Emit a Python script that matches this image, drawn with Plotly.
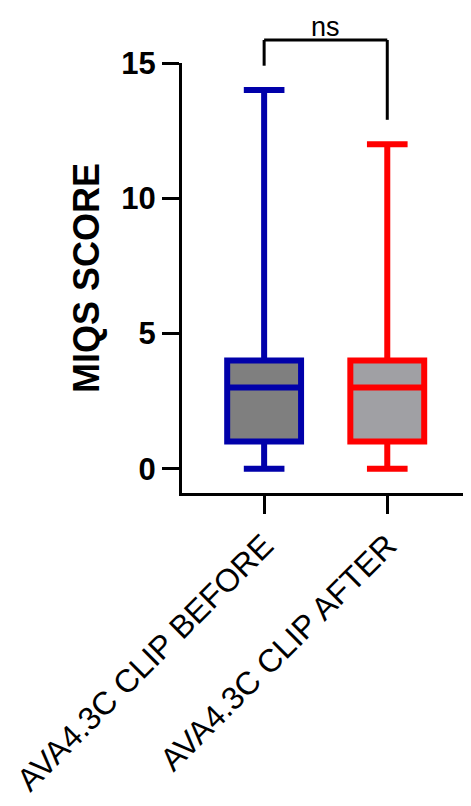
import plotly.graph_objects as go

groups = ['AVA4.3C CLIP BEFORE', 'AVA4.3C CLIP AFTER']
q1 = [1, 1]
median = [3, 3]
q3 = [4, 4]
lowerfence = [0, 0]
upperfence = [14, 12]
line_colors = ['#0000AA', '#FF0000']
fill_colors = ['#7F7F7F', '#A0A0A4']
sig_label = 'ns'

FONT = 'Liberation Sans, Arial, sans-serif'
ymin, ymax = -0.9, 15

fig = go.Figure()
for i in range(len(groups)):
    fig.add_trace(go.Box(
        x=[i], q1=[q1[i]], median=[median[i]], q3=[q3[i]],
        lowerfence=[lowerfence[i]], upperfence=[upperfence[i]],
        width=0.6, whiskerwidth=0.55,
        line=dict(color=line_colors[i], width=6),
        fillcolor=fill_colors[i], boxpoints=False,
        showlegend=False, hoverinfo='skip'))

# significance bracket (paper y, computed from data values)
def py(v):
    return (v - ymin) / (ymax - ymin)

top = max(upperfence) + 1.85
fig.add_shape(type='line', xref='x', yref='paper', x0=0, x1=0,
              y0=py(upperfence[0] + 0.9), y1=py(top), line=dict(color='black', width=3))
fig.add_shape(type='line', xref='x', yref='paper', x0=1, x1=1,
              y0=py(upperfence[1] + 0.9), y1=py(top), line=dict(color='black', width=3))
fig.add_shape(type='line', xref='x', yref='paper', x0=0, x1=1,
              y0=py(top), y1=py(top), line=dict(color='black', width=3))
fig.add_annotation(x=0.5, xref='x', y=py(top), yref='paper', text=sig_label,
                   showarrow=False, yanchor='bottom', yshift=-3, borderpad=0,
                   font=dict(family=FONT, size=27, color='black'))

fig.update_xaxes(range=[-0.667, 1.68], tickvals=[0, 1], ticktext=groups,
                 tickangle=-45, showline=True, linecolor='black', linewidth=3,
                 ticks='outside', ticklen=18, tickwidth=3, tickcolor='black',
                 showgrid=False, zeroline=False, ticklabeloverflow='allow',
                 tickfont=dict(family=FONT, size=32, color='black'))
fig.update_yaxes(range=[ymin, ymax], tickvals=[0, 5, 10, 15],
                 showline=True, linecolor='black', linewidth=3,
                 ticks='outside', ticklen=17, tickwidth=3, tickcolor='black',
                 showgrid=False, zeroline=False,
                 tickfont=dict(family=FONT, size=31, color='black', weight='bold'),
                 title=dict(text='MIQS SCORE', standoff=11,
                            font=dict(family=FONT, size=36, color='black', weight='bold')))

# page body adds an 8px margin, so the figure is 8px smaller
fig.update_layout(width=463, height=798, plot_bgcolor='white', paper_bgcolor='white',
                  margin=dict(l=174, r=0, t=55, b=313))

fig.write_html("out.html")
